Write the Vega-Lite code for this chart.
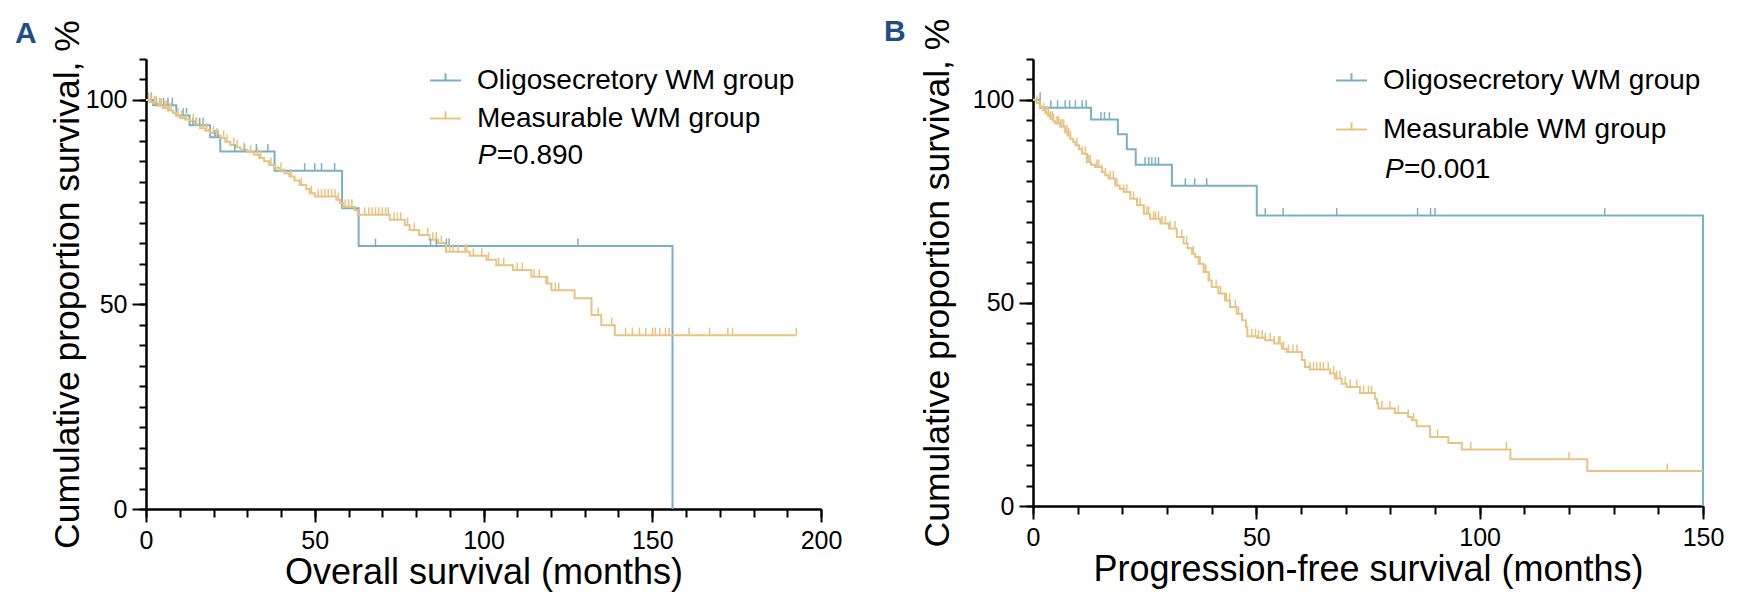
{
  "$schema": "https://vega.github.io/schema/vega-lite/v6.json",
  "padding": {"left": 15, "top": 17, "right": 5, "bottom": 2},
  "spacing": 42,
  "config": {
    "view": {"stroke": null},
    "font": "Liberation Sans",
    "axis": {"grid": false, "domainColor": "#000", "domainWidth": 2, "tickColor": "#000", "tickWidth": 2, "labelColor": "#000", "labelFontSize": 25, "titleColor": "#000", "titleFontWeight": "normal", "labelFont": "Liberation Sans", "titleFont": "Liberation Sans", "labelFlush": false, "labelOverlap": false}
  },
  "datasets": {
    "A_steps": [
      {"g":"O","t":0,"s":100},{"g":"O","t":2.1,"s":98.7},{"g":"O","t":9,"s":96.2},{"g":"O","t":12.9,"s":93.8},{"g":"O","t":19,"s":90.9},{"g":"O","t":22,"s":87.4},{"g":"O","t":38.1,"s":82.7},{"g":"O","t":58.1,"s":73.5},{"g":"O","t":63,"s":64.3},{"g":"O","t":156,"s":0},
      {"g":"M","t":0,"s":100},{"g":"M","t":1,"s":99.5},{"g":"M","t":2,"s":99.2},{"g":"M","t":3.5,"s":98.6},{"g":"M","t":5,"s":98},{"g":"M","t":6.5,"s":97.4},{"g":"M","t":8,"s":96.8},{"g":"M","t":9,"s":96.2},{"g":"M","t":10,"s":95.6},{"g":"M","t":11.5,"s":95.2},{"g":"M","t":13,"s":94.8},{"g":"M","t":14.5,"s":94},{"g":"M","t":16,"s":93.1},{"g":"M","t":17.5,"s":92.5},{"g":"M","t":19,"s":91.9},{"g":"M","t":20.5,"s":91.3},{"g":"M","t":22,"s":90.7},{"g":"M","t":23.5,"s":89.8},{"g":"M","t":25,"s":89},{"g":"M","t":26.5,"s":88.4},{"g":"M","t":28,"s":87.8},{"g":"M","t":30,"s":87.2},{"g":"M","t":32,"s":86.6},{"g":"M","t":33.5,"s":85.8},{"g":"M","t":35,"s":85},{"g":"M","t":36.5,"s":84.1},{"g":"M","t":38,"s":83.4},{"g":"M","t":39.5,"s":82.9},{"g":"M","t":41,"s":82.1},{"g":"M","t":42.5,"s":81.3},{"g":"M","t":44,"s":80.3},{"g":"M","t":45.5,"s":79.2},{"g":"M","t":47.5,"s":78.2},{"g":"M","t":48.5,"s":77.2},{"g":"M","t":50,"s":76.4},{"g":"M","t":56.4,"s":75.6},{"g":"M","t":57.5,"s":74.8},{"g":"M","t":58.4,"s":73.9},{"g":"M","t":61.8,"s":73.1},{"g":"M","t":62.8,"s":71.9},{"g":"M","t":72.2,"s":70.7},{"g":"M","t":76.7,"s":69.4},{"g":"M","t":78.1,"s":68.2},{"g":"M","t":80.9,"s":67},{"g":"M","t":84,"s":65.8},{"g":"M","t":86.5,"s":65},{"g":"M","t":88.8,"s":62.9},{"g":"M","t":95.9,"s":61.9},{"g":"M","t":100.9,"s":60.9},{"g":"M","t":103.8,"s":59.6},{"g":"M","t":108.7,"s":58.4},{"g":"M","t":114.2,"s":56.8},{"g":"M","t":118.6,"s":55.1},{"g":"M","t":120.1,"s":53.5},{"g":"M","t":127,"s":51.5},{"g":"M","t":132,"s":47.4},{"g":"M","t":134.9,"s":44.9},{"g":"M","t":138.9,"s":42.5},{"g":"M","t":192.7,"s":42.5}
    ],
    "A_censor": [
      {"g":"O","t":1.6,"s":100},{"g":"O","t":3.1,"s":98.7},{"g":"O","t":4.1,"s":98.7},{"g":"O","t":5.2,"s":98.7},{"g":"O","t":6.5,"s":98.7},{"g":"O","t":7.8,"s":98.7},{"g":"O","t":11,"s":96.2},{"g":"O","t":12,"s":96.2},{"g":"O","t":13.9,"s":93.8},{"g":"O","t":14.9,"s":93.8},{"g":"O","t":15.9,"s":93.8},{"g":"O","t":16.9,"s":93.8},{"g":"O","t":20.4,"s":90.9},{"g":"O","t":21.3,"s":90.9},{"g":"O","t":26.3,"s":87.4},{"g":"O","t":29.2,"s":87.4},{"g":"O","t":32.7,"s":87.4},{"g":"O","t":36.1,"s":87.4},{"g":"O","t":47,"s":82.7},{"g":"O","t":50,"s":82.7},{"g":"O","t":52,"s":82.7},{"g":"O","t":55.9,"s":82.7},{"g":"O","t":68,"s":64.3},{"g":"O","t":84.3,"s":64.3},{"g":"O","t":86,"s":64.3},{"g":"O","t":89,"s":64.3},{"g":"O","t":89.8,"s":64.3},{"g":"O","t":128,"s":64.3},
      {"g":"M","t":0.8,"s":100},{"g":"M","t":1.5,"s":99.5},{"g":"M","t":2.5,"s":99.2},{"g":"M","t":3,"s":99.2},{"g":"M","t":4,"s":98.6},{"g":"M","t":4.5,"s":98.6},{"g":"M","t":5.5,"s":98},{"g":"M","t":6,"s":98},{"g":"M","t":7,"s":97.4},{"g":"M","t":7.5,"s":97.4},{"g":"M","t":9.5,"s":96.2},{"g":"M","t":10.5,"s":95.6},{"g":"M","t":12,"s":95.2},{"g":"M","t":14,"s":94.8},{"g":"M","t":15,"s":94},{"g":"M","t":17,"s":93.1},{"g":"M","t":18,"s":92.5},{"g":"M","t":20,"s":91.9},{"g":"M","t":21,"s":91.3},{"g":"M","t":23,"s":90.7},{"g":"M","t":24,"s":89.8},{"g":"M","t":26,"s":89},{"g":"M","t":27,"s":88.4},{"g":"M","t":29,"s":87.8},{"g":"M","t":31,"s":87.2},{"g":"M","t":33,"s":86.6},{"g":"M","t":34,"s":85.8},{"g":"M","t":37,"s":84.1},{"g":"M","t":40,"s":82.9},{"g":"M","t":43,"s":81.3},{"g":"M","t":46,"s":79.2},{"g":"M","t":49,"s":77.2},{"g":"M","t":51,"s":76.4},{"g":"M","t":52,"s":76.4},{"g":"M","t":53,"s":76.4},{"g":"M","t":54,"s":76.4},{"g":"M","t":55,"s":76.4},{"g":"M","t":56,"s":76.4},{"g":"M","t":57,"s":75.6},{"g":"M","t":59,"s":73.9},{"g":"M","t":60,"s":73.9},{"g":"M","t":61,"s":73.9},{"g":"M","t":64.8,"s":71.9},{"g":"M","t":66,"s":71.9},{"g":"M","t":67,"s":71.9},{"g":"M","t":68,"s":71.9},{"g":"M","t":69,"s":71.9},{"g":"M","t":70,"s":71.9},{"g":"M","t":71,"s":71.9},{"g":"M","t":71.8,"s":71.9},{"g":"M","t":73.5,"s":70.7},{"g":"M","t":74.5,"s":70.7},{"g":"M","t":75.5,"s":70.7},{"g":"M","t":77.5,"s":69.4},{"g":"M","t":79.5,"s":68.2},{"g":"M","t":83.5,"s":67},{"g":"M","t":85,"s":65.8},{"g":"M","t":86,"s":65.8},{"g":"M","t":87.5,"s":65},{"g":"M","t":89,"s":62.9},{"g":"M","t":90,"s":62.9},{"g":"M","t":91,"s":62.9},{"g":"M","t":92.5,"s":62.9},{"g":"M","t":94.5,"s":62.9},{"g":"M","t":95,"s":62.9},{"g":"M","t":97,"s":61.9},{"g":"M","t":99.5,"s":61.9},{"g":"M","t":101.5,"s":60.9},{"g":"M","t":104.5,"s":59.6},{"g":"M","t":106,"s":59.6},{"g":"M","t":110,"s":58.4},{"g":"M","t":111.5,"s":58.4},{"g":"M","t":115,"s":56.8},{"g":"M","t":116.5,"s":56.8},{"g":"M","t":119,"s":55.1},{"g":"M","t":121.3,"s":53.5},{"g":"M","t":122.3,"s":53.5},{"g":"M","t":134,"s":47.4},{"g":"M","t":138,"s":44.9},{"g":"M","t":142.1,"s":42.5},{"g":"M","t":144.1,"s":42.5},{"g":"M","t":146.2,"s":42.5},{"g":"M","t":148.1,"s":42.5},{"g":"M","t":150.1,"s":42.5},{"g":"M","t":150.9,"s":42.5},{"g":"M","t":152.2,"s":42.5},{"g":"M","t":153.9,"s":42.5},{"g":"M","t":155,"s":42.5},{"g":"M","t":160.9,"s":42.5},{"g":"M","t":167,"s":42.5},{"g":"M","t":172.4,"s":42.5},{"g":"M","t":173.8,"s":42.5},{"g":"M","t":192.7,"s":42.5}
    ],
    "A_p": [{"t":98.3,"s":86.3,"p":"P","v":"=0.890"}],
    "B_steps": [
      {"g":"O","t":0,"s":100},{"g":"O","t":1.6,"s":98},{"g":"O","t":13,"s":95.1},{"g":"O","t":19,"s":91.5},{"g":"O","t":21,"s":87.8},{"g":"O","t":23,"s":84},{"g":"O","t":31.1,"s":78.8},{"g":"O","t":50.1,"s":71.5},{"g":"O","t":150,"s":0},
      {"g":"M","t":0,"s":100},{"g":"M","t":0.8,"s":99.2},{"g":"M","t":1.6,"s":98.2},{"g":"M","t":2.2,"s":97.4},{"g":"M","t":2.8,"s":96.6},{"g":"M","t":3.4,"s":96},{"g":"M","t":3.9,"s":95.3},{"g":"M","t":4.5,"s":94.7},{"g":"M","t":5,"s":94.1},{"g":"M","t":6.1,"s":93.3},{"g":"M","t":7.2,"s":92},{"g":"M","t":7.8,"s":91.2},{"g":"M","t":8.3,"s":90.4},{"g":"M","t":9,"s":89.6},{"g":"M","t":9.5,"s":88.8},{"g":"M","t":10.3,"s":87.8},{"g":"M","t":11,"s":86.7},{"g":"M","t":12.1,"s":84.6},{"g":"M","t":13,"s":84},{"g":"M","t":13.9,"s":83.4},{"g":"M","t":15.4,"s":82.2},{"g":"M","t":16.2,"s":81.4},{"g":"M","t":16.9,"s":80.6},{"g":"M","t":18.4,"s":78.9},{"g":"M","t":19.4,"s":78.1},{"g":"M","t":20.3,"s":77.3},{"g":"M","t":21.8,"s":75.6},{"g":"M","t":23.3,"s":74},{"g":"M","t":24.8,"s":71.9},{"g":"M","t":26.2,"s":70.7},{"g":"M","t":28.5,"s":69.5},{"g":"M","t":30.4,"s":68.3},{"g":"M","t":32.2,"s":66.2},{"g":"M","t":33.7,"s":64.6},{"g":"M","t":34.6,"s":63.4},{"g":"M","t":35.6,"s":62.1},{"g":"M","t":36.3,"s":61.3},{"g":"M","t":37.1,"s":59.6},{"g":"M","t":38.2,"s":57.6},{"g":"M","t":39.3,"s":55.5},{"g":"M","t":40,"s":53.9},{"g":"M","t":41.5,"s":52.3},{"g":"M","t":43,"s":50.6},{"g":"M","t":44.1,"s":49},{"g":"M","t":45.6,"s":47.3},{"g":"M","t":46.8,"s":45.7},{"g":"M","t":47.7,"s":44},{"g":"M","t":48,"s":41.8},{"g":"M","t":50.1,"s":41.4},{"g":"M","t":52,"s":40.8},{"g":"M","t":54,"s":40},{"g":"M","t":55.7,"s":38.7},{"g":"M","t":56.8,"s":37.9},{"g":"M","t":60.2,"s":35.9},{"g":"M","t":60.9,"s":34.2},{"g":"M","t":62,"s":33.6},{"g":"M","t":66.5,"s":32.6},{"g":"M","t":67.6,"s":31.4},{"g":"M","t":69.1,"s":30.1},{"g":"M","t":70.2,"s":29.3},{"g":"M","t":73.2,"s":27.8},{"g":"M","t":76.6,"s":26.4},{"g":"M","t":77,"s":25.2},{"g":"M","t":77.3,"s":24},{"g":"M","t":81,"s":22.9},{"g":"M","t":84,"s":21.9},{"g":"M","t":84.8,"s":21.1},{"g":"M","t":85.9,"s":19.6},{"g":"M","t":88.9,"s":17},{"g":"M","t":93,"s":15.5},{"g":"M","t":96,"s":13.9},{"g":"M","t":106.9,"s":11.5},{"g":"M","t":124.1,"s":8.6},{"g":"M","t":150,"s":8.6}
    ],
    "B_censor": [
      {"g":"O","t":1.6,"s":100},{"g":"O","t":4,"s":98},{"g":"O","t":5.5,"s":98},{"g":"O","t":7.2,"s":98},{"g":"O","t":8.2,"s":98},{"g":"O","t":9.5,"s":98},{"g":"O","t":11,"s":98},{"g":"O","t":11.9,"s":98},{"g":"O","t":15.2,"s":95.1},{"g":"O","t":16,"s":95.1},{"g":"O","t":17.1,"s":95.1},{"g":"O","t":25.1,"s":84},{"g":"O","t":25.9,"s":84},{"g":"O","t":26.6,"s":84},{"g":"O","t":27.4,"s":84},{"g":"O","t":28.1,"s":84},{"g":"O","t":34.1,"s":78.8},{"g":"O","t":36.2,"s":78.8},{"g":"O","t":38.9,"s":78.8},{"g":"O","t":52,"s":71.5},{"g":"O","t":56,"s":71.5},{"g":"O","t":68,"s":71.5},{"g":"O","t":86.1,"s":71.5},{"g":"O","t":89,"s":71.5},{"g":"O","t":90,"s":71.5},{"g":"O","t":128,"s":71.5},
      {"g":"M","t":0.9,"s":99.2},{"g":"M","t":1.6,"s":98.2},{"g":"M","t":2.4,"s":97.4},{"g":"M","t":2.8,"s":96.6},{"g":"M","t":3.1,"s":96.6},{"g":"M","t":3.5,"s":96},{"g":"M","t":3.9,"s":95.3},{"g":"M","t":4.3,"s":95.3},{"g":"M","t":4.6,"s":94.7},{"g":"M","t":5.4,"s":94.1},{"g":"M","t":5.7,"s":94.1},{"g":"M","t":6.1,"s":93.3},{"g":"M","t":6.5,"s":93.3},{"g":"M","t":6.9,"s":93.3},{"g":"M","t":7.6,"s":92},{"g":"M","t":8,"s":91.2},{"g":"M","t":8.4,"s":90.4},{"g":"M","t":9.8,"s":88.8},{"g":"M","t":11,"s":86.7},{"g":"M","t":11.7,"s":86.7},{"g":"M","t":12.5,"s":84.6},{"g":"M","t":12.8,"s":84.6},{"g":"M","t":14.3,"s":83.4},{"g":"M","t":14.7,"s":83.4},{"g":"M","t":15.4,"s":82.2},{"g":"M","t":16.2,"s":81.4},{"g":"M","t":17.3,"s":80.6},{"g":"M","t":18,"s":80.6},{"g":"M","t":18.8,"s":78.9},{"g":"M","t":20.3,"s":77.3},{"g":"M","t":21,"s":77.3},{"g":"M","t":22.5,"s":75.6},{"g":"M","t":23.3,"s":74},{"g":"M","t":24,"s":74},{"g":"M","t":24.8,"s":71.9},{"g":"M","t":25.5,"s":71.9},{"g":"M","t":25.9,"s":71.9},{"g":"M","t":27,"s":70.7},{"g":"M","t":27.4,"s":70.7},{"g":"M","t":28.1,"s":70.7},{"g":"M","t":28.9,"s":69.5},{"g":"M","t":29.6,"s":69.5},{"g":"M","t":30.7,"s":68.3},{"g":"M","t":31.8,"s":68.3},{"g":"M","t":33.3,"s":66.2},{"g":"M","t":34.4,"s":64.6},{"g":"M","t":35.9,"s":62.1},{"g":"M","t":37.4,"s":59.6},{"g":"M","t":38.2,"s":57.6},{"g":"M","t":38.7,"s":57.6},{"g":"M","t":39.5,"s":55.5},{"g":"M","t":41,"s":53.9},{"g":"M","t":42,"s":52.3},{"g":"M","t":43.3,"s":50.6},{"g":"M","t":44,"s":50.6},{"g":"M","t":45.3,"s":49},{"g":"M","t":46,"s":47.3},{"g":"M","t":46.8,"s":45.7},{"g":"M","t":49,"s":41.8},{"g":"M","t":49.8,"s":41.8},{"g":"M","t":50.5,"s":41.4},{"g":"M","t":51.3,"s":41.4},{"g":"M","t":52,"s":40.8},{"g":"M","t":53.1,"s":40.8},{"g":"M","t":54,"s":40},{"g":"M","t":55,"s":40},{"g":"M","t":55.3,"s":40},{"g":"M","t":56.1,"s":38.7},{"g":"M","t":57.2,"s":37.9},{"g":"M","t":58.2,"s":37.9},{"g":"M","t":59.1,"s":37.9},{"g":"M","t":62,"s":33.6},{"g":"M","t":62.8,"s":33.6},{"g":"M","t":63.5,"s":33.6},{"g":"M","t":64.3,"s":33.6},{"g":"M","t":65,"s":33.6},{"g":"M","t":66.1,"s":33.6},{"g":"M","t":67.3,"s":32.6},{"g":"M","t":68,"s":31.4},{"g":"M","t":68.7,"s":31.4},{"g":"M","t":69.9,"s":30.1},{"g":"M","t":71,"s":29.3},{"g":"M","t":72.5,"s":29.3},{"g":"M","t":74,"s":27.8},{"g":"M","t":75.1,"s":27.8},{"g":"M","t":75.8,"s":27.8},{"g":"M","t":78.1,"s":24},{"g":"M","t":79.9,"s":24},{"g":"M","t":81.8,"s":22.9},{"g":"M","t":84,"s":21.9},{"g":"M","t":85.2,"s":21.1},{"g":"M","t":90.6,"s":17},{"g":"M","t":98,"s":13.9},{"g":"M","t":106,"s":13.9},{"g":"M","t":120,"s":11.5},{"g":"M","t":142,"s":8.6}
    ],
    "B_p": [{"t":78.8,"s":82.6,"p":"P","v":"=0.001"}]
  },
  "hconcat": [
    {
      "title": {"text": "A", "anchor": "start", "frame": "group", "fontSize": 30, "fontWeight": "bold", "color": "#1f4e89", "font": "Liberation Sans", "dx": -131, "dy": 39, "offset": 10},
      "width": 675,
      "height": 450,
      "layer": [
        {
          "data": {"name": "A_steps"},
          "mark": {"type": "line", "interpolate": "step-after", "strokeWidth": 2},
          "encoding": {
            "x": {"field": "t", "type": "quantitative", "scale": {"domain": [0, 200], "nice": false, "zero": false},
                  "axis": {"values": [0, 50, 100, 150, 200], "tickSize": 13, "labelPadding": 6, "title": "Overall survival (months)", "titleFontSize": 36, "titlePadding": 2}},
            "y": {"field": "s", "type": "quantitative", "scale": {"domain": [0, 110], "nice": false},
                  "axis": {"values": [0, 50, 100], "tickSize": 14, "labelPadding": 5, "title": "Cumulative proportion survival, %", "titleFontSize": 35.5, "titlePadding": 0}},
            "color": {"field": "g", "type": "nominal", "scale": {"domain": ["O", "M"], "range": ["#79b0c6", "#e8c382"]},
                      "legend": {"orient": "none", "legendX": 283, "legendY": 5, "title": null, "direction": "vertical", "padding": 0,
                                 "labelExpr": "datum.label == 'O' ? 'Oligosecretory WM group' : 'Measurable WM group'",
                                 "symbolType": "M-1,0H1M0,0V-0.47", "symbolSize": 961, "symbolStrokeWidth": 2,
                                 "labelFontSize": 28, "labelColor": "#000", "labelFont": "Liberation Sans", "labelOffset": 15, "rowPadding": 7, "labelLimit": 0}}
          }
        },
        {
          "data": {"name": "A_censor"},
          "mark": {"type": "point", "shape": "M0,0V-1", "filled": false, "size": 225, "strokeWidth": 1.5, "opacity": 1},
          "encoding": {
            "x": {"field": "t", "type": "quantitative", "axis": {"orient": "bottom", "values": [0,10,20,30,40,50,60,70,80,90,100,110,120,130,140,150,160,170,180,190,200], "tickSize": 8, "labels": false, "title": null}},
            "y": {"field": "s", "type": "quantitative", "axis": {"orient": "left", "values": [0,5,10,15,20,25,30,35,40,45,50,55,60,65,70,75,80,85,90,95,100,105,110], "tickSize": 7, "labels": false, "title": null}},
            "color": {"field": "g", "type": "nominal", "legend": null}
          }
        },
        {
          "data": {"name": "A_p"},
          "mark": {"type": "text", "align": "left", "baseline": "middle", "fontSize": 28, "fontStyle": "italic", "color": "#000", "font": "Liberation Sans"},
          "encoding": {"x": {"field": "t", "type": "quantitative", "axis": null}, "y": {"field": "s", "type": "quantitative", "axis": null}, "text": {"field": "p"}}
        },
        {
          "data": {"name": "A_p"},
          "mark": {"type": "text", "align": "left", "baseline": "middle", "fontSize": 28, "dx": 19, "color": "#000", "font": "Liberation Sans"},
          "encoding": {"x": {"field": "t", "type": "quantitative", "axis": null}, "y": {"field": "s", "type": "quantitative", "axis": null}, "text": {"field": "v"}}
        }
      ],
      "resolve": {"axis": {"x": "independent", "y": "independent"}}
    },
    {
      "title": {"text": "B", "anchor": "start", "frame": "group", "fontSize": 30, "fontWeight": "bold", "color": "#1f4e89", "font": "Liberation Sans", "dx": -149, "dy": 39, "offset": 10},
      "width": 670,
      "height": 447,
      "layer": [
        {
          "data": {"name": "B_steps"},
          "mark": {"type": "line", "interpolate": "step-after", "strokeWidth": 2},
          "encoding": {
            "x": {"field": "t", "type": "quantitative", "scale": {"domain": [0, 150], "nice": false, "zero": false},
                  "axis": {"values": [0, 50, 100, 150], "tickSize": 13, "labelPadding": 6, "title": "Progression-free survival (months)", "titleFontSize": 36, "titlePadding": 2}},
            "y": {"field": "s", "type": "quantitative", "scale": {"domain": [0, 110], "nice": false},
                  "axis": {"values": [0, 50, 100], "tickSize": 14, "labelPadding": 5, "title": "Cumulative proportion survival, %", "titleFontSize": 35.5, "titlePadding": 17}},
            "color": {"field": "g", "type": "nominal", "scale": {"domain": ["O", "M"], "range": ["#79b0c6", "#e8c382"]},
                      "legend": {"orient": "none", "legendX": 302, "legendY": 5, "title": null, "direction": "vertical", "padding": 0,
                                 "labelExpr": "datum.label == 'O' ? 'Oligosecretory WM group' : 'Measurable WM group'",
                                 "symbolType": "M-1,0H1M0,0V-0.47", "symbolSize": 961, "symbolStrokeWidth": 2,
                                 "labelFontSize": 28, "labelColor": "#000", "labelFont": "Liberation Sans", "labelOffset": 15, "rowPadding": 18, "labelLimit": 0}}
          }
        },
        {
          "data": {"name": "B_censor"},
          "mark": {"type": "point", "shape": "M0,0V-1", "filled": false, "size": 225, "strokeWidth": 1.5, "opacity": 1},
          "encoding": {
            "x": {"field": "t", "type": "quantitative", "axis": {"orient": "bottom", "values": [0,10,20,30,40,50,60,70,80,90,100,110,120,130,140,150], "tickSize": 8, "labels": false, "title": null}},
            "y": {"field": "s", "type": "quantitative", "axis": {"orient": "left", "values": [0,5,10,15,20,25,30,35,40,45,50,55,60,65,70,75,80,85,90,95,100,105,110], "tickSize": 7, "labels": false, "title": null}},
            "color": {"field": "g", "type": "nominal", "legend": null}
          }
        },
        {
          "data": {"name": "B_p"},
          "mark": {"type": "text", "align": "left", "baseline": "middle", "fontSize": 28, "fontStyle": "italic", "color": "#000", "font": "Liberation Sans"},
          "encoding": {"x": {"field": "t", "type": "quantitative", "axis": null}, "y": {"field": "s", "type": "quantitative", "axis": null}, "text": {"field": "p"}}
        },
        {
          "data": {"name": "B_p"},
          "mark": {"type": "text", "align": "left", "baseline": "middle", "fontSize": 28, "dx": 19, "color": "#000", "font": "Liberation Sans"},
          "encoding": {"x": {"field": "t", "type": "quantitative", "axis": null}, "y": {"field": "s", "type": "quantitative", "axis": null}, "text": {"field": "v"}}
        }
      ],
      "resolve": {"axis": {"x": "independent", "y": "independent"}}
    }
  ],
  "resolve": {"scale": {"color": "independent"}, "legend": {"color": "independent"}}
}
